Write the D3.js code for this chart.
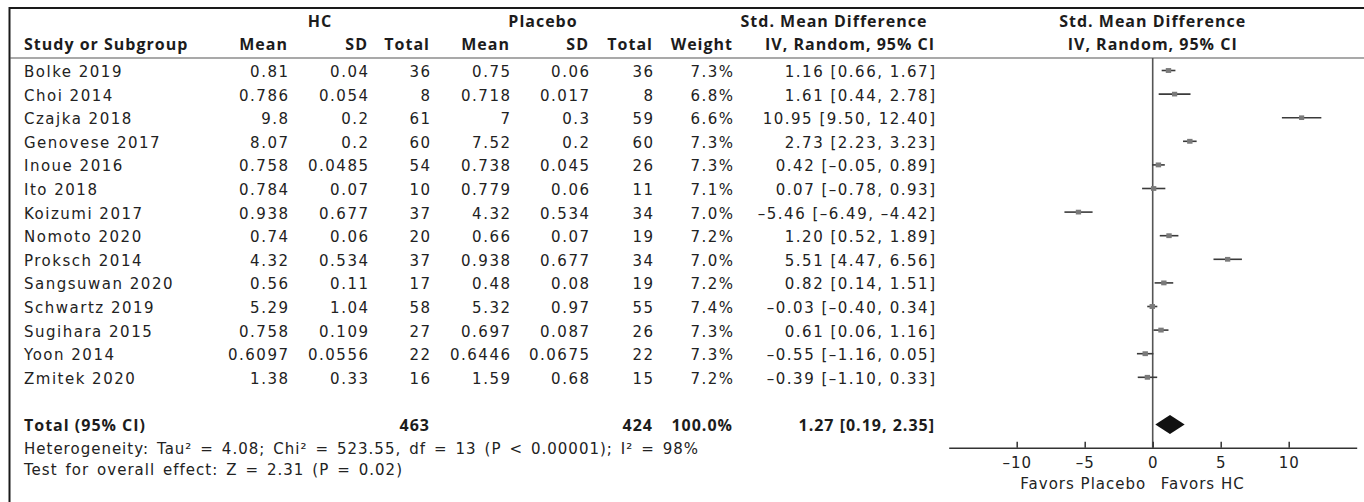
<!DOCTYPE html>
<head>
<meta charset="utf-8">
<title>Forest plot</title>
<script src="https://cdn.jsdelivr.net/npm/d3@7"></script>
<style>
  body { margin: 0; background: #fff; }
  .cell { font-family: "DejaVu Sans", sans-serif; font-size: 15px; letter-spacing: 1.5px; fill: #222; }
  .head { font-family: "Open Sans", sans-serif; font-weight: 700; font-size: 16px; letter-spacing: 1px; fill: #1c1c1c; }
  .foot { font-family: "DejaVu Sans", sans-serif; font-size: 15px; letter-spacing: 1px; word-spacing: 2.2px; fill: #222; }
  .axis text { font-family: "DejaVu Sans", sans-serif; font-size: 15px; letter-spacing: 1px; fill: #222; }
  .axis path, .axis line { stroke: #333; stroke-width: 1.5px; }
</style>
</head>
<body>
<div id="chart"></div>
<script>
// ---------------- data ----------------
const studies = ["Bolke 2019", "Choi 2014", "Czajka 2018", "Genovese 2017", "Inoue 2016", "Ito 2018",
  "Koizumi 2017", "Nomoto 2020", "Proksch 2014", "Sangsuwan 2020", "Schwartz 2019", "Sugihara 2015",
  "Yoon 2014", "Zmitek 2020"];
const hcMean  = [0.81, 0.786, 9.8, 8.07, 0.758, 0.784, 0.938, 0.74, 4.32, 0.56, 5.29, 0.758, 0.6097, 1.38];
const hcSD    = [0.04, 0.054, 0.2, 0.2, 0.0485, 0.07, 0.677, 0.06, 0.534, 0.11, 1.04, 0.109, 0.0556, 0.33];
const hcTotal = [36, 8, 61, 60, 54, 10, 37, 20, 37, 17, 58, 27, 22, 16];
const plMean  = [0.75, 0.718, 7, 7.52, 0.738, 0.779, 4.32, 0.66, 0.938, 0.48, 5.32, 0.697, 0.6446, 1.59];
const plSD    = [0.06, 0.017, 0.3, 0.2, 0.045, 0.06, 0.534, 0.07, 0.677, 0.08, 0.97, 0.087, 0.0675, 0.68];
const plTotal = [36, 8, 59, 60, 26, 11, 34, 19, 34, 19, 55, 26, 22, 15];
const weights = [7.3, 6.8, 6.6, 7.3, 7.3, 7.1, 7.0, 7.2, 7.0, 7.2, 7.4, 7.3, 7.3, 7.2];
const smd     = [1.16, 1.61, 10.95, 2.73, 0.42, 0.07, -5.46, 1.20, 5.51, 0.82, -0.03, 0.61, -0.55, -0.39];
const ciLow   = [0.66, 0.44, 9.50, 2.23, -0.05, -0.78, -6.49, 0.52, 4.47, 0.14, -0.40, 0.06, -1.16, -1.10];
const ciHigh  = [1.67, 2.78, 12.40, 3.23, 0.89, 0.93, -4.42, 1.89, 6.56, 1.51, 0.34, 1.16, 0.05, 0.33];

const totalN = [463, 424];
const totalWeight = 100.0;
const totalEffect = [1.27, 0.19, 2.35]; // estimate, low, high
const xTicks = [-10, -5, 0, 5, 10];
const footLines = [
  "Heterogeneity: Tau\u00b2 = 4.08; Chi\u00b2 = 523.55, df = 13 (P < 0.00001); I\u00b2 = 98%",
  "Test for overall effect: Z = 2.31 (P = 0.02)"
];

// ---------------- setup ----------------
const width = 1364, height = 502;
const svg = d3.select("#chart").append("svg")
  .attr("width", width).attr("height", height);

const LS = 1.5; // letter spacing of cells, shifts right-aligned text
const y = d3.scaleLinear().domain([0, 1]).range([70.5, 94.1]);   // row index -> centre
const x = d3.scaleLinear().domain([-15, 15]).range([948.7, 1356.7]);
const axisY = 447.7;

const dash = s => String(s).replace(/-/g, "\u2013");
const f2 = v => dash(v.toFixed(2));
const ci = (e, l, h) => f2(e) + " [" + f2(l) + ", " + f2(h) + "]";

// column right edges
const col = { hcMean: 288, hcSD: 368, hcTot: 430, plMean: 510, plSD: 589, plTot: 653, wt: 733, ci: 935 };

function txt(cls, xp, yp, s, anchor) {
  const ls = cls === "cell" && anchor === "end" ? LS : 0;
  return svg.append("text").attr("class", cls)
    .attr("x", xp + ls).attr("y", yp)
    .attr("text-anchor", anchor || "start")
    .text(s);
}

// ---------------- frame ----------------
svg.append("path").attr("d", "M9.5,502V8H1364")
  .attr("fill", "none").attr("stroke", "#1a1a1a").attr("stroke-width", 2);
svg.append("line").attr("x1", 10).attr("x2", width).attr("y1", 58).attr("y2", 58)
  .attr("stroke", "#555").attr("stroke-width", 1.2);

// ---------------- headers ----------------
const h1 = 27, h2 = 50;
txt("head", 320, h1, "HC", "middle");
txt("head", 543, h1, "Placebo", "middle");
txt("head", 834, h1, "Std. Mean Difference", "middle");
txt("head", x(0), h1, "Std. Mean Difference", "middle");
txt("head", 24, h2, "Study or Subgroup");
[["Mean", col.hcMean], ["SD", col.hcSD], ["Total", col.hcTot], ["Mean", col.plMean],
 ["SD", col.plSD], ["Total", col.plTot], ["Weight", col.wt], ["IV, Random, 95% CI", col.ci]]
  .forEach(d => txt("head", d[1], h2, d[0], "end"));
txt("head", x(0), h2, "IV, Random, 95% CI", "middle");

// ---------------- study rows ----------------
studies.forEach((s, i) => {
  const yy = y(i) + 6.5;
  txt("cell", 24, yy, s);
  txt("cell", col.hcMean, yy, String(hcMean[i]), "end");
  txt("cell", col.hcSD, yy, String(hcSD[i]), "end");
  txt("cell", col.hcTot, yy, String(hcTotal[i]), "end");
  txt("cell", col.plMean, yy, String(plMean[i]), "end");
  txt("cell", col.plSD, yy, String(plSD[i]), "end");
  txt("cell", col.plTot, yy, String(plTotal[i]), "end");
  txt("cell", col.wt, yy, weights[i].toFixed(1) + "%", "end");
  txt("cell", col.ci, yy, ci(smd[i], ciLow[i], ciHigh[i]), "end");
});

// ---------------- total row ----------------
const tRow = 15;
const ty = y(tRow) + 6.5;
txt("head", 24, ty, "Total (95% CI)");
txt("head", col.hcTot, ty, totalN[0], "end");
txt("head", col.plTot, ty, totalN[1], "end");
txt("head", col.wt, ty, totalWeight.toFixed(1) + "%", "end");
txt("head", col.ci, ty, ci(totalEffect[0], totalEffect[1], totalEffect[2]), "end");

footLines.forEach((s, i) => txt("foot", 24, 453.5 + i * 21, s));

// ---------------- forest ----------------
svg.append("line")
  .attr("x1", x(0)).attr("x2", x(0)).attr("y1", 58).attr("y2", axisY)
  .attr("stroke", "#555").attr("stroke-width", 1.6);

const rows = svg.selectAll("g.study").data(studies).enter().append("g").attr("class", "study");
rows.append("line")
  .attr("x1", (d, i) => x(ciLow[i])).attr("x2", (d, i) => x(ciHigh[i]))
  .attr("y1", (d, i) => y(i)).attr("y2", (d, i) => y(i))
  .attr("stroke", "#3a3a3a").attr("stroke-width", 1.6);
rows.append("rect")
  .attr("x", (d, i) => x(smd[i]) - Math.sqrt(weights[i]))
  .attr("y", (d, i) => y(i) - Math.sqrt(weights[i]) * 0.9)
  .attr("width", (d, i) => 2 * Math.sqrt(weights[i]))
  .attr("height", (d, i) => 1.8 * Math.sqrt(weights[i]))
  .attr("fill", "#7a7a7a");

const dy = y(tRow);
svg.append("path")
  .attr("d", d3.line()([
    [x(totalEffect[1]), dy], [x(totalEffect[0]), dy - 9.5],
    [x(totalEffect[2]), dy], [x(totalEffect[0]), dy + 9.5]]) + "Z")
  .attr("fill", "#111");

// ---------------- axis ----------------
const axis = d3.axisBottom(x).tickValues(xTicks).tickSize(-6).tickSizeOuter(0).tickPadding(10)
  .tickFormat(d => dash(d));
svg.append("g").attr("class", "axis")
  .attr("transform", "translate(0," + axisY + ")")
  .call(axis)
  .call(g => g.selectAll("text").attr("font-family", null).attr("font-size", null))
  .attr("font-family", null).attr("font-size", null);

txt("cell", x(0) - 8, 488.5, "Favors Placebo", "end").style("letter-spacing", "1px");
txt("cell", x(0) + 8, 488.5, "Favors HC").style("letter-spacing", "1px");
</script>
</body>
